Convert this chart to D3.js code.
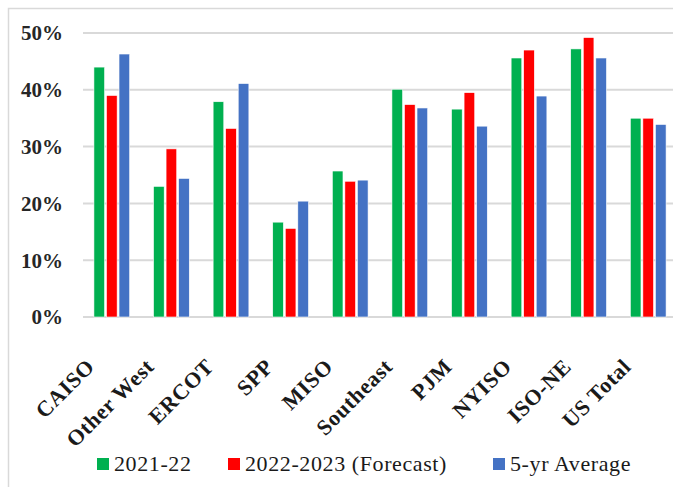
<!DOCTYPE html>
<html>
<head>
<meta charset="utf-8">
<script src="https://cdn.jsdelivr.net/npm/d3@7"></script>
<style>
  body { margin: 0; background: #fff; }
  svg { display: block; }
</style>
</head>
<body>
<div id="chart"></div>
<script>
// data
const regions = ["CAISO", "Other West", "ERCOT", "SPP", "MISO", "Southeast", "PJM", "NYISO", "ISO-NE", "US Total"];
const series = ["2021-22", "2022-2023 (Forecast)", "5-yr Average"];
const y2122 = [44.0, 23.0, 37.9, 16.7, 25.7, 40.1, 36.6, 45.6, 47.2, 35.0];
const y2223 = [39.0, 29.6, 33.2, 15.6, 23.9, 37.4, 39.5, 47.0, 49.2, 35.0];
const avg5 = [46.3, 24.4, 41.1, 20.4, 24.1, 36.8, 33.6, 38.9, 45.6, 33.9];
const yTicks = [0, 10, 20, 30, 40, 50];

const values = [y2122, y2223, avg5];
const colors = ["#00b050", "#ff0000", "#4472c4"];
const serifFont = '"Liberation Serif"';

const width = 673, height = 487;

const svg = d3.select("#chart").append("svg")
    .attr("width", width)
    .attr("height", height);

// chart frame (partly cropped in the original)
svg.append("rect")
    .attr("x", 8.5).attr("y", 8.5)
    .attr("width", 700).attr("height", 500)
    .attr("fill", "none")
    .attr("stroke", "#d9d9d9")
    .attr("stroke-width", 1.5);

const x = d3.scaleBand()
    .domain(regions)
    .range([82, 678])
    .paddingInner(0.4)
    .paddingOuter(0.2);

const xSub = d3.scaleBand()
    .domain(series)
    .range([0, x.bandwidth()])
    .paddingInner(0.15);

const y = d3.scaleLinear()
    .domain([0, 50])
    .range([317, 33]);

// gridlines
svg.append("g")
    .selectAll("line")
    .data(yTicks)
    .join("line")
    .attr("x1", 83).attr("x2", width)
    .attr("y1", d => y(d)).attr("y2", d => y(d))
    .attr("stroke", "#d9d9d9")
    .attr("stroke-width", 2);

// y labels
svg.append("g")
    .selectAll("text")
    .data(yTicks)
    .join("text")
    .attr("x", 63)
    .attr("y", d => y(d))
    .attr("dy", "0.35em")
    .attr("text-anchor", "end")
    .style("font-family", serifFont)
    .style("font-weight", "bold")
    .style("font-size", "21px")
    .attr("fill", "#262626")
    .text(d => d + "%");

// bars
const groups = svg.append("g")
    .selectAll("g")
    .data(regions)
    .join("g")
    .attr("transform", d => `translate(${x(d)},0)`);

groups.selectAll("rect")
    .data((d, i) => series.map((s, j) => ({ s, v: values[j][i], c: colors[j] })))
    .join("rect")
    .attr("x", d => xSub(d.s))
    .attr("width", xSub.bandwidth())
    .attr("y", d => y(d.v))
    .attr("height", d => y(0) - y(d.v))
    .attr("fill", d => d.c)
    .attr("stroke", "#fff")
    .attr("stroke-width", 0.6);

// x labels, rotated
svg.append("g")
    .selectAll("text")
    .data(regions)
    .join("text")
    .attr("transform", d => `translate(${x(d) + x.bandwidth() / 2 - 16},368) rotate(-45)`)
    .attr("text-anchor", "end")
    .style("font-family", serifFont)
    .style("font-weight", "bold")
    .style("font-size", "22px")
    .style("letter-spacing", "0.6px")
    .attr("fill", "#1a1a1a")
    .text(d => d);

// legend
const legendX = [97, 228, 493];
const legend = svg.append("g")
    .selectAll("g")
    .data(series)
    .join("g")
    .attr("transform", (d, i) => `translate(${legendX[i]},458)`);

legend.append("rect")
    .attr("width", 12).attr("height", 12)
    .attr("fill", (d, i) => colors[i]);

legend.append("text")
    .attr("x", 17)
    .attr("y", 13)
    .style("font-family", serifFont)
    .style("font-size", "22px")
    .style("letter-spacing", "0.6px")
    .attr("fill", "#1a1a1a")
    .text(d => d);
</script>
</body>
</html>
